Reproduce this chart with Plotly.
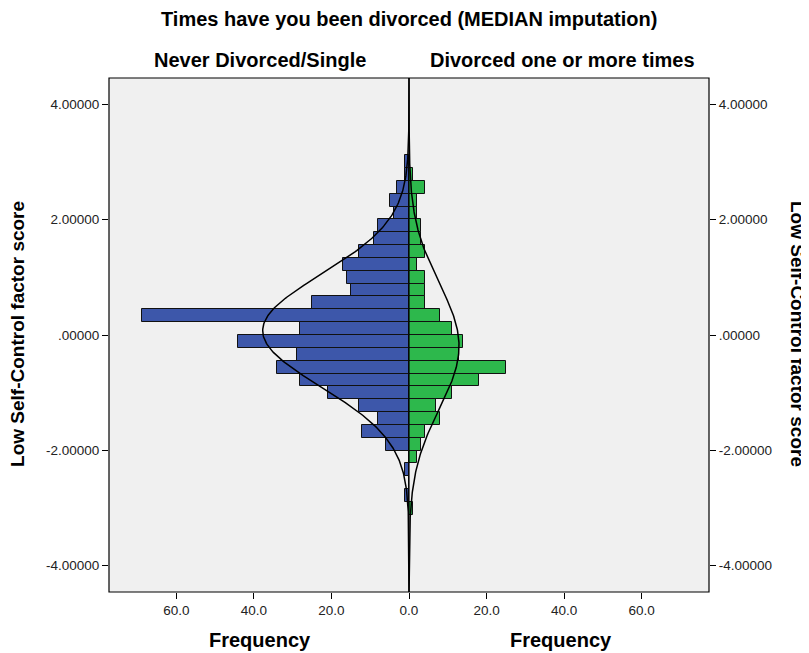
import numpy as np
import plotly.graph_objects as go

# ---- data (bins listed from top to bottom) ----
bin_width = 0.2229
n_bins = 28
never_divorced = [1, 1, 3, 5, 4, 8, 9, 13, 17, 16, 15, 25, 69, 28,
                  44, 29, 34, 28, 21, 13, 8, 12, 6, 0, 1, 0, 1, 0]
divorced = [0, 1, 4, 2, 2, 3, 3, 4, 2, 4, 4, 4, 8, 11,
            14, 13, 25, 18, 11, 7, 8, 4, 3, 2, 0, 0, 0, 1]
y_ticks = [4, 2, 0, -2, -4]
y_tick_labels = ["4.00000", "2.00000", ".00000", "-2.00000", "-4.00000"]
x_ticks_left = [0, 20, 40, 60]
x_tick_labels_left = ["0.0", "20.0", "40.0", "60.0"]
x_ticks_right = [20, 40, 60]
x_tick_labels_right = ["20.0", "40.0", "60.0"]

bin_centers = [(n_bins / 2 - 0.5 - i) * bin_width for i in range(n_bins)]

y_range = [-4.46, 4.46]
x_max = 77.4

def normal_curve(counts):
    c = np.array(counts, float)
    yc = np.array(bin_centers)
    n = c.sum()
    mu = (c * yc).sum() / n
    sd = np.sqrt((c * (yc - mu) ** 2).sum() / (n - 1))
    ys = np.linspace(y_range[0], y_range[1], 400)
    xs = n * bin_width / (sd * np.sqrt(2 * np.pi)) * np.exp(-0.5 * ((ys - mu) / sd) ** 2)
    return xs, ys

FONT = "Liberation Sans, Arial, sans-serif"
BLUE = "#3d57aa"
GREEN = "#2db84c"

fig = go.Figure()
fig.add_trace(go.Bar(x=never_divorced, y=bin_centers, orientation="h", width=bin_width,
                     marker=dict(color=BLUE, line=dict(color="#111", width=1)),
                     xaxis="x", yaxis="y", showlegend=False))
fig.add_trace(go.Bar(x=divorced, y=bin_centers, orientation="h", width=bin_width,
                     marker=dict(color=GREEN, line=dict(color="#111", width=1)),
                     xaxis="x2", yaxis="y2", showlegend=False))
xs, ys = normal_curve(never_divorced)
fig.add_trace(go.Scatter(x=xs, y=ys, mode="lines", line=dict(color="black", width=1.5),
                         xaxis="x", yaxis="y", showlegend=False))
xs, ys = normal_curve(divorced)
fig.add_trace(go.Scatter(x=xs, y=ys, mode="lines", line=dict(color="black", width=1.5),
                         xaxis="x2", yaxis="y2", showlegend=False))

tickfont = dict(family=FONT, size=13.5, color="#222")
common_x = dict(ticks="outside", ticklen=6, tickcolor="black", tickwidth=1,
                showgrid=False, zeroline=False, showline=False, tickfont=tickfont)
common_y = dict(range=y_range, tickvals=y_ticks, ticktext=y_tick_labels,
                ticks="outside", ticklen=6, tickcolor="black", tickwidth=1,
                showgrid=False, zeroline=False, showline=False, tickfont=tickfont)

title_font = dict(family=FONT, size=20, color="black")
side_font = dict(family=FONT, size=19, color="black")

def ann(text, x, y, angle=0, font=title_font):
    return dict(text="<b>%s</b>" % text, x=x, y=y, xref="paper", yref="paper",
                showarrow=False, xanchor="center", yanchor="middle",
                textangle=angle, font=font)

fig.update_layout(
    width=801, height=645,
    margin=dict(l=101, r=100, t=70, b=61),
    paper_bgcolor="white", plot_bgcolor="#f0f0f0",
    bargap=0, barmode="overlay",
    xaxis=dict(domain=[0, 0.5], range=[x_max, 0], tickvals=x_ticks_left,
               ticktext=x_tick_labels_left, anchor="y", **common_x),
    xaxis2=dict(domain=[0.5, 1], range=[0, x_max], tickvals=x_ticks_right,
                ticktext=x_tick_labels_right, anchor="y2", **common_x),
    yaxis=dict(anchor="x", side="left", **common_y),
    yaxis2=dict(anchor="x2", side="right", matches="y", **common_y),
    shapes=[
        dict(type="rect", xref="paper", yref="paper", x0=0, x1=1, y0=0, y1=1,
             line=dict(color="black", width=1.2), layer="above"),
        dict(type="line", xref="paper", yref="paper", x0=0.5, x1=0.5, y0=0, y1=1,
             line=dict(color="black", width=1.2), layer="above"),
    ],
    annotations=[
        ann("Times have you been divorced (MEDIAN imputation)", 0.5, 1.1148),
        ann("Never Divorced/Single", 0.2517, 1.035),
        ann("Divorced one or more times", 0.755, 1.035),
        ann("Frequency", 0.2517, -0.0934),
        ann("Frequency", 0.753, -0.0934),
        ann("Low Self-Control factor score", -0.1517, 0.502, -90, side_font),
        ann("Low Self-Control factor score", 1.1467, 0.502, 90, side_font),
    ],
)

fig.write_html("out.html")
